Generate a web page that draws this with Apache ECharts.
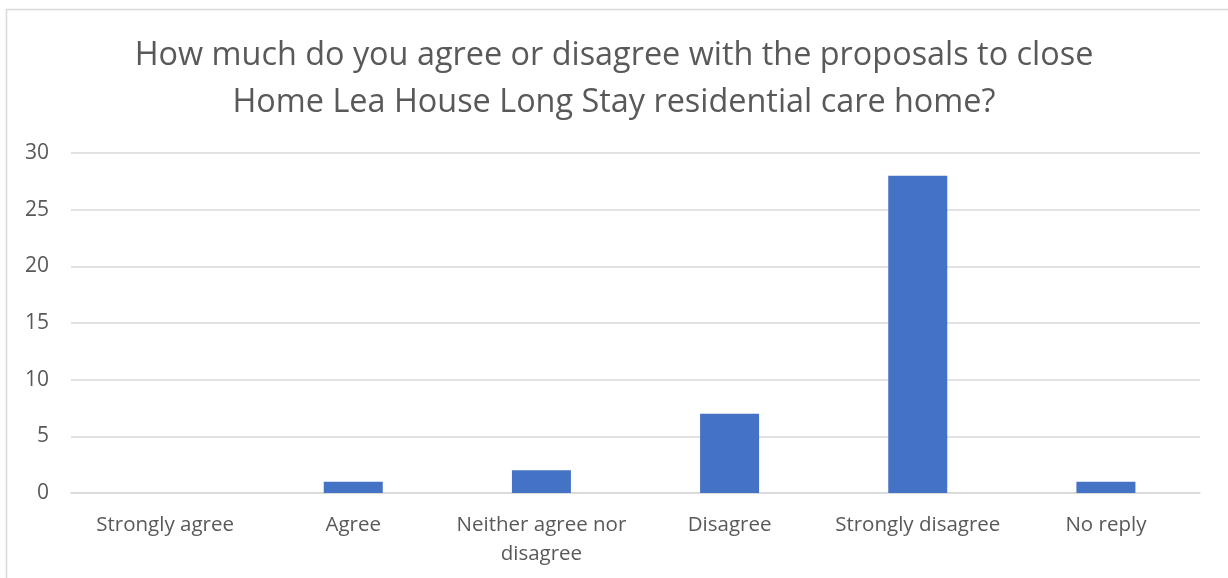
<!DOCTYPE html>
<html>
<head>
<meta charset="utf-8">
<script src="https://cdn.jsdelivr.net/npm/echarts@6/dist/echarts.min.js"></script>
<style>
  html, body { margin: 0; padding: 0; background: #fff; }
  #chart { width: 1228px; height: 578px; }
</style>
</head>
<body>
<div id="chart"></div>
<script>
// Survey responses on the Lea House closure proposal
const categories = ['Strongly agree', 'Agree', 'Neither agree nor\ndisagree', 'Disagree', 'Strongly disagree', 'No reply'];
const responses = [0, 1, 2, 7, 28, 1];
const yTicks = { min: 0, max: 30, interval: 5 };
const titleText = 'How much do you agree or disagree with the proposals to close\nHome Lea House Long Stay residential care home?';

const chart = echarts.init(document.getElementById('chart'), null, { renderer: 'canvas' });
const font = '"Open Sans", "Noto Sans", sans-serif';

chart.setOption({
  animation: false,
  backgroundColor: '#ffffff',
  graphic: [{
    type: 'rect',
    shape: { x: 6.5, y: 9.5, width: 1240, height: 600 },
    style: { fill: 'none', stroke: '#d9d9d9', lineWidth: 1.5 },
    silent: true, z: -1
  }],
  title: {
    text: titleText,
    left: 'center',
    top: 27,
    textStyle: {
      fontFamily: font,
      fontSize: 32.4,
      fontWeight: 'normal',
      color: '#595959',
      lineHeight: 47
    }
  },
  grid: { left: 71, right: 28, top: 153, bottom: 85, containLabel: false },
  xAxis: {
    type: 'category',
    data: categories,
    axisLine: { show: true, lineStyle: { color: '#d9d9d9', width: 1.5 } },
    axisTick: { show: false },
    axisLabel: {
      fontFamily: font,
      fontSize: 20.5,
      color: '#595959',
      margin: 18,
      lineHeight: 29,
      interval: 0
    }
  },
  yAxis: {
    type: 'value',
    min: yTicks.min,
    max: yTicks.max,
    interval: yTicks.interval,
    axisLine: { show: false },
    axisTick: { show: false },
    splitLine: { lineStyle: { color: '#d9d9d9', width: 1.5 } },
    axisLabel: {
      fontFamily: font,
      fontSize: 21,
      color: '#595959',
      margin: 22
    }
  },
  series: [{
    type: 'bar',
    data: responses,
    barWidth: 59,
    itemStyle: { color: '#4472c4' }
  }]
});
</script>
</body>
</html>
